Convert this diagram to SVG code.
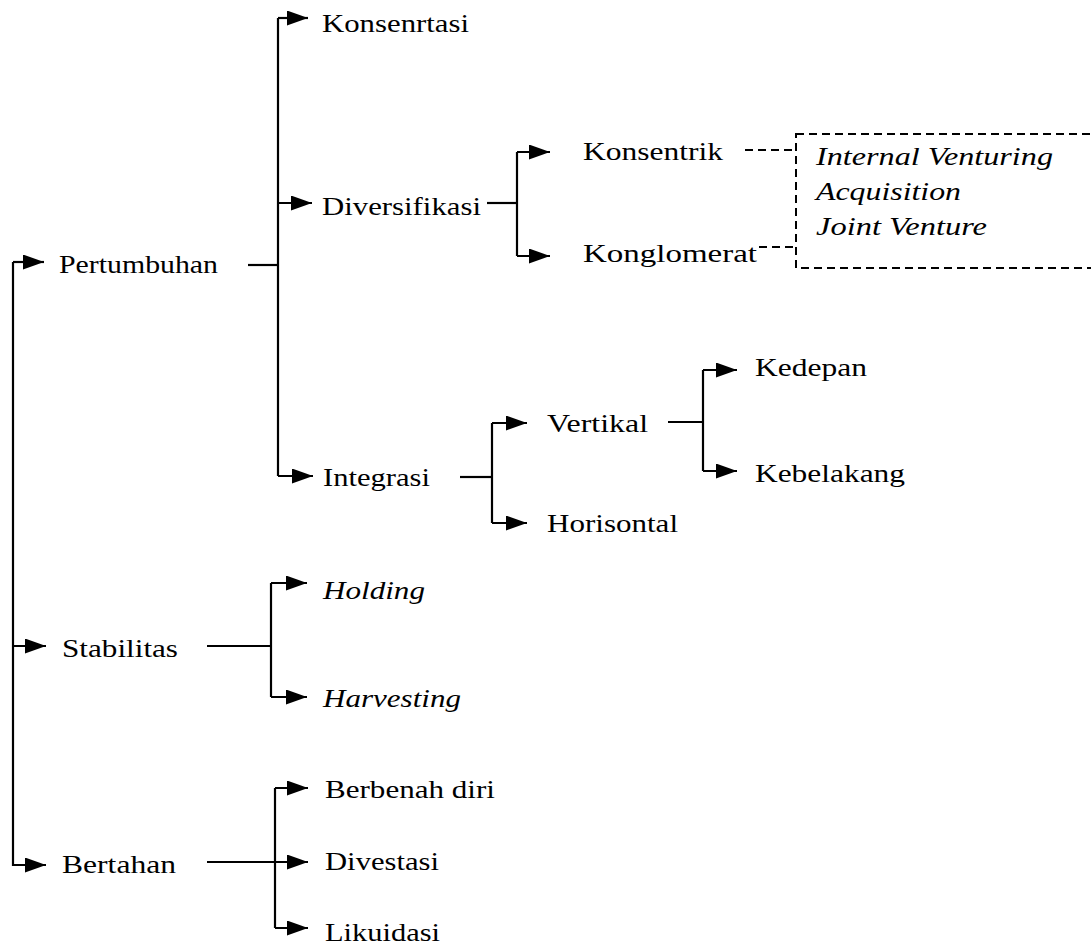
<svg xmlns="http://www.w3.org/2000/svg" width="1091" height="946" viewBox="0 0 1091 946">
<defs>
<marker id="ah" viewBox="0 0 21 15" refX="21" refY="7.5" markerWidth="21" markerHeight="15" markerUnits="userSpaceOnUse" orient="auto">
<path d="M0,0 L21,7.5 L0,15 z" fill="#000"/>
</marker>
</defs>
<style>
text{font-family:"Liberation Serif","Times New Roman",Times,serif;font-size:26px;fill:#000}
.it{font-style:italic}
.ln{fill:none;stroke:#000;stroke-width:2.2}
.ar{fill:none;stroke:#000;stroke-width:2.2;marker-end:url(#ah)}
.dash{fill:none;stroke:#000;stroke-width:2;stroke-dasharray:8 5}
</style>
<rect width="1091" height="946" fill="#fff"/>
<g id="connectors">
<path class="ln" d="M13,262 V866"/>
<path class="ar" d="M13,262 H44"/>
<path class="ar" d="M13,646 H46"/>
<path class="ar" d="M13,865 H46"/>
<path class="ln" d="M248,265 H278"/>
<path class="ln" d="M278,18 V476"/>
<path class="ar" d="M278,18 H308"/>
<path class="ar" d="M278,203 H312"/>
<path class="ar" d="M278,476 H313"/>
<path class="ln" d="M487,203 H517"/>
<path class="ln" d="M517,152 V256"/>
<path class="ar" d="M517,152 H550"/>
<path class="ar" d="M517,256 H550"/>
<path class="dash" d="M745,150 H796"/>
<path class="dash" d="M759,247 H796"/>
<path class="ln" d="M460,477 H492"/>
<path class="ln" d="M492,423 V523"/>
<path class="ar" d="M492,423 H527"/>
<path class="ar" d="M492,523 H527"/>
<path class="ln" d="M668,422 H703"/>
<path class="ln" d="M703,370 V471"/>
<path class="ar" d="M703,370 H737"/>
<path class="ar" d="M703,471 H737"/>
<path class="ln" d="M207,646 H271"/>
<path class="ln" d="M271,583 V697"/>
<path class="ar" d="M271,583 H307"/>
<path class="ar" d="M271,697 H307"/>
<path class="ar" d="M207,862 H308"/>
<path class="ln" d="M275,788 V928"/>
<path class="ar" d="M275,788 H308"/>
<path class="ar" d="M275,928 H308"/>
</g>
<g id="n-pertumbuhan"><text x="59" y="273" textLength="159" lengthAdjust="spacingAndGlyphs">Pertumbuhan</text></g>
<g id="n-stabilitas"><text x="62" y="657" textLength="116" lengthAdjust="spacingAndGlyphs">Stabilitas</text></g>
<g id="n-bertahan"><text x="62" y="873" textLength="114" lengthAdjust="spacingAndGlyphs">Bertahan</text></g>
<g id="n-konsenrtasi"><text x="322" y="32" textLength="147" lengthAdjust="spacingAndGlyphs">Konsenrtasi</text></g>
<g id="n-diversifikasi"><text x="322" y="215" textLength="159" lengthAdjust="spacingAndGlyphs">Diversifikasi</text></g>
<g id="n-integrasi"><text x="323" y="486" textLength="107" lengthAdjust="spacingAndGlyphs">Integrasi</text></g>
<g id="n-konsentrik"><text x="583" y="160" textLength="140" lengthAdjust="spacingAndGlyphs">Konsentrik</text></g>
<g id="n-konglomerat"><text x="583" y="262" textLength="174" lengthAdjust="spacingAndGlyphs">Konglomerat</text></g>
<g id="n-options">
<rect class="dash" x="796" y="134" width="310" height="134"/>
<text class="it" x="816" y="165" textLength="237" lengthAdjust="spacingAndGlyphs">Internal Venturing</text>
<text class="it" x="816" y="200" textLength="145" lengthAdjust="spacingAndGlyphs">Acquisition</text>
<text class="it" x="816" y="235" textLength="171" lengthAdjust="spacingAndGlyphs">Joint Venture</text>
</g>
<g id="n-vertikal"><text x="547" y="432" textLength="101" lengthAdjust="spacingAndGlyphs">Vertikal</text></g>
<g id="n-horisontal"><text x="547" y="532" textLength="131" lengthAdjust="spacingAndGlyphs">Horisontal</text></g>
<g id="n-kedepan"><text x="755" y="376" textLength="112" lengthAdjust="spacingAndGlyphs">Kedepan</text></g>
<g id="n-kebelakang"><text x="755" y="482" textLength="150" lengthAdjust="spacingAndGlyphs">Kebelakang</text></g>
<g id="n-holding"><text class="it" x="323" y="599" textLength="102" lengthAdjust="spacingAndGlyphs">Holding</text></g>
<g id="n-harvesting"><text class="it" x="323" y="707" textLength="138" lengthAdjust="spacingAndGlyphs">Harvesting</text></g>
<g id="n-berbenah"><text x="325" y="798" textLength="170" lengthAdjust="spacingAndGlyphs">Berbenah diri</text></g>
<g id="n-divestasi"><text x="325" y="870" textLength="114" lengthAdjust="spacingAndGlyphs">Divestasi</text></g>
<g id="n-likuidasi"><text x="325" y="941" textLength="115" lengthAdjust="spacingAndGlyphs">Likuidasi</text></g>
</svg>
